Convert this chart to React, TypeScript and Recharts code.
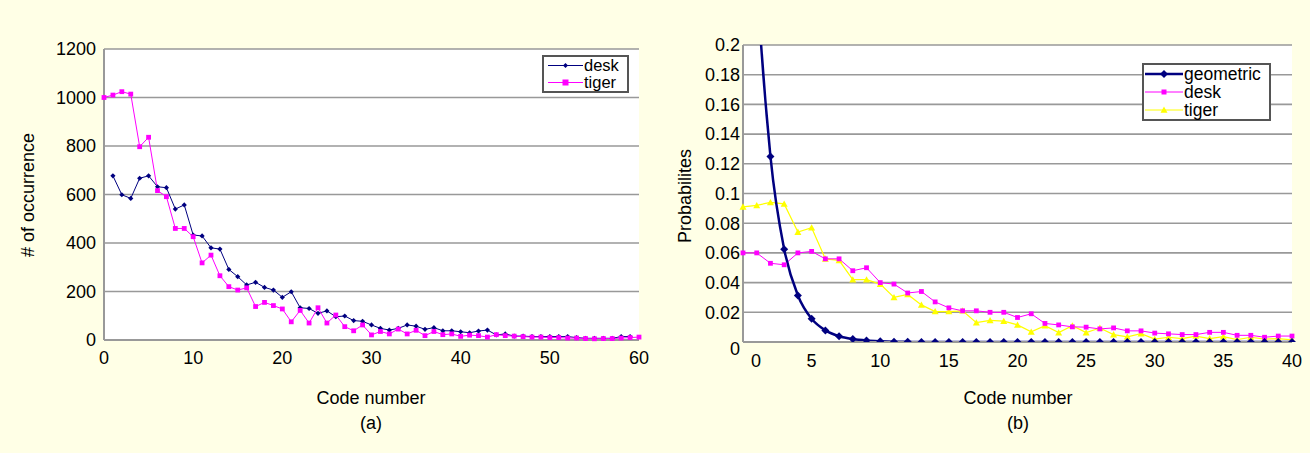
import React from 'react'
import { LineChart, Line, XAxis, YAxis, CartesianGrid, Legend } from 'recharts'

const FONT = '"Liberation Sans", Arial, sans-serif'
const NAVY = '#000080'
const MAGENTA = '#FF00FF'
const YELLOW = '#FFFF00'

// (a) occurrence counts, index = code number 0..60
const deskCounts = [
  null, 677, 599, 584, 667, 677, 632, 628, 540, 557, 433,
  429, 380, 375, 291, 261, 227, 238, 217, 206, 176,
  199, 133, 130, 110, 120, 96, 99, 80, 77, 62,
  48, 41, 48, 62, 57, 44, 51, 38, 38, 34,
  30, 37, 41, 21, 25, 16, 16, 14, 14, 14,
  14, 14, 10, 7, 7, 7, 7, 14, 14, null,
]
const tigerCounts = [
  1000, 1010, 1024, 1014, 797, 836, 616, 591, 460, 460, 426,
  318, 350, 265, 220, 206, 215, 138, 155, 142, 128,
  75, 122, 70, 133, 70, 103, 55, 38, 62, 21,
  35, 25, 45, 25, 40, 18, 35, 22, 25, 15,
  20, 18, 12, 22, 18, 16, 14, 12, 12, 10,
  10, 8, 8, 6, 5, 6, 6, 8, 10, 12,
]
const countTicks = [0, 200, 400, 600, 800, 1000, 1200]
const codeTicksA = [0, 10, 20, 30, 40, 50, 60]

// (b) probabilities, index = code number 0..40
const geometricProb = [
  0.5, 0.25, 0.125, 0.0625, 0.0313, 0.0156, 0.0078, 0.0039, 0.002, 0.001, 0.0005,
  0.0002, 0.0001, 0, 0, 0, 0, 0, 0, 0, 0,
  0, 0, 0, 0, 0, 0, 0, 0, 0, 0,
  0, 0, 0, 0, 0, 0, 0, 0, 0, 0,
]
const deskProb = [
  0.06, 0.06, 0.053, 0.052, 0.06, 0.061, 0.056, 0.056, 0.048, 0.05, 0.04,
  0.039, 0.033, 0.034, 0.027, 0.023, 0.021, 0.021, 0.02, 0.02, 0.0165,
  0.019, 0.0125, 0.0115, 0.0102, 0.01, 0.0088, 0.0095, 0.0075, 0.0075, 0.006,
  0.0055, 0.005, 0.005, 0.0065, 0.0065, 0.0045, 0.0045, 0.0032, 0.004, 0.004,
]
const tigerProb = [
  0.091, 0.092, 0.094, 0.093, 0.074, 0.077, 0.056, 0.055, 0.042, 0.042, 0.039,
  0.03, 0.032, 0.025, 0.0205, 0.0205, 0.021, 0.013, 0.0145, 0.014, 0.0115,
  0.0068, 0.011, 0.0063, 0.011, 0.0063, 0.0094, 0.005, 0.0035, 0.0056, 0.002,
  0.0032, 0.0023, 0.004, 0.0023, 0.0036, 0.0016, 0.0032, 0.002, 0.0023, 0.0014,
]
const probTicks = [0, 0.02, 0.04, 0.06, 0.08, 0.1, 0.12, 0.14, 0.16, 0.18, 0.2]
const codeTicksB = [0, 5, 10, 15, 20, 25, 30, 35, 40]

const dataA = tigerCounts.map((t, i) => ({ code: i, desk: deskCounts[i], tiger: t }))
const dataB = geometricProb.map((g, i) => ({ code: i, geometric: g, desk: deskProb[i], tiger: tigerProb[i] }))

type Shape = 'diamond' | 'square' | 'triangle'

function markerPath(shape: Shape, cx: number, cy: number, r: number) {
  if (shape === 'diamond') return `M${cx},${cy - r}L${cx + r},${cy}L${cx},${cy + r}L${cx - r},${cy}Z`
  if (shape === 'square') return `M${cx - r},${cy - r}h${2 * r}v${2 * r}h${-2 * r}Z`
  return `M${cx},${cy - r}L${cx + r},${cy + r * 0.8}L${cx - r},${cy + r * 0.8}Z`
}

function makeDot(shape: Shape, color: string, r: number) {
  return (p: any) => {
    const { cx, cy, index } = p
    if (cx == null || cy == null || p.value == null) return <g key={`m${index}`} />
    return <path key={`m${index}`} d={markerPath(shape, cx, cy, r)} fill={color} />
  }
}

interface LegendItem {
  name: string
  color: string
  shape: Shape
  r: number
  width: number
}

function LegendBox({ items, width, rowH, sampleW, padLeft, fontSize }: { items: LegendItem[]; width: number; rowH: number; sampleW: number; padLeft: number; fontSize: number }) {
  return (
    <div
      style={{
        boxSizing: 'border-box',
        width,
        border: '2px solid #555',
        background: '#fff',
        paddingLeft: padLeft,
        fontFamily: FONT,
        fontSize,
        lineHeight: `${rowH}px`,
        color: '#000',
      }}
    >
      {items.map((it) => (
        <div key={it.name} style={{ display: 'flex', alignItems: 'center', height: rowH }}>
          <svg width={sampleW} height={rowH} style={{ flex: 'none' }}>
            <line x1={0} x2={sampleW} y1={rowH / 2} y2={rowH / 2} stroke={it.color} strokeWidth={it.width} />
            <path d={markerPath(it.shape, sampleW / 2, rowH / 2, it.r)} fill={it.color} />
          </svg>
          <span style={{ marginLeft: 1 }}>{it.name}</span>
        </div>
      ))}
    </div>
  )
}

const tickStyle = { fontSize: 18, fill: '#000', fontFamily: FONT }

function ProbXTick(p: any) {
  const { x, y, payload } = p
  const shift = payload.value === 0 ? 13 : 0
  return (
    <text x={x + shift} y={y} dy="0.71em" textAnchor="middle" {...tickStyle}>
      {payload.value}
    </text>
  )
}

function ProbYTick(p: any) {
  const { x, y, payload } = p
  const shift = payload.value === 0 ? 7 : 0
  return (
    <text x={x} y={y + shift} dy="0.355em" textAnchor="end" {...tickStyle}>
      {payload.value}
    </text>
  )
}

const titleStyle: React.CSSProperties = {
  position: 'absolute',
  fontFamily: FONT,
  fontSize: 18,
  color: '#000',
  whiteSpace: 'nowrap',
  lineHeight: 1,
}

function Title({ x, y, text, rotate }: { x: number; y: number; text: string; rotate?: boolean }) {
  return (
    <div
      style={{
        ...titleStyle,
        left: x,
        top: y,
        transform: `translate(-50%, -50%)${rotate ? ' rotate(-90deg)' : ''}`,
      }}
    >
      {text}
    </div>
  )
}

export default function App() {
  return (
    <div style={{ position: 'absolute', left: 0, top: 0, width: 1310, height: 453, background: '#FFFFE6', overflow: 'hidden' }}>
      <div style={{ position: 'absolute', left: 0, top: 0 }}>
        <LineChart width={660} height={380} data={dataA} margin={{ top: 49, right: 21, bottom: 0, left: 0 }}>
          <CartesianGrid vertical={false} stroke="#999" strokeWidth={1.6} fill="#fff" />
          <XAxis
            type="number"
            dataKey="code"
            domain={[0, 60]}
            ticks={codeTicksA}
            height={40}
            tickLine={false}
            tickSize={0}
            tickMargin={11}
            axisLine={{ stroke: '#999', strokeWidth: 2 }}
            tick={tickStyle}
          />
          <YAxis
            domain={[0, 1200]}
            ticks={countTicks}
            width={104}
            tickLine={false}
            tickSize={0}
            tickMargin={8}
            axisLine={{ stroke: '#999', strokeWidth: 2 }}
            tick={tickStyle}
          />
          <YAxis yAxisId="edge" orientation="right" width={0} tick={false} tickLine={false} axisLine={{ stroke: '#c8c8c8', strokeWidth: 2 }} />
          <Legend
            layout="vertical"
            align="center"
            verticalAlign="middle"
            wrapperStyle={{ top: 55, left: 542, width: 'auto', height: 'auto' }}
            content={() => (
              <LegendBox
                width={87}
                rowH={17}
                sampleW={35}
                padLeft={4}
                fontSize={16.5}
                items={[
                  { name: 'desk', color: NAVY, shape: 'diamond', r: 2.5, width: 1 },
                  { name: 'tiger', color: MAGENTA, shape: 'square', r: 3, width: 1 },
                ]}
              />
            )}
          />
          <Line dataKey="desk" stroke={NAVY} strokeWidth={1} dot={makeDot('diamond', NAVY, 2.6)} isAnimationActive={false} />
          <Line dataKey="tiger" stroke={MAGENTA} strokeWidth={1} dot={makeDot('square', MAGENTA, 2.4)} isAnimationActive={false} />
        </LineChart>
      </div>

      <div style={{ position: 'absolute', left: 660, top: 0 }}>
        <LineChart width={650} height={380} data={dataB} margin={{ top: 45, right: 18, bottom: 0, left: 0 }}>
          <CartesianGrid vertical={false} stroke="#999" strokeWidth={1.6} fill="#fff" />
          <XAxis
            type="number"
            dataKey="code"
            domain={[0, 40]}
            ticks={codeTicksB}
            height={38}
            tickLine={false}
            tickSize={0}
            tickMargin={12}
            axisLine={{ stroke: '#999', strokeWidth: 2 }}
            tick={<ProbXTick />}
          />
          <YAxis
            domain={[0, 0.2]}
            allowDataOverflow
            ticks={probTicks}
            width={83}
            tickLine={false}
            tickSize={0}
            tickMargin={3}
            axisLine={{ stroke: '#999', strokeWidth: 2 }}
            tick={<ProbYTick />}
          />
          <YAxis yAxisId="edge" orientation="right" width={0} tick={false} tickLine={false} axisLine={{ stroke: '#c8c8c8', strokeWidth: 2 }} />
          <Legend
            layout="vertical"
            align="center"
            verticalAlign="middle"
            wrapperStyle={{ top: 63, left: 482, width: 'auto', height: 'auto' }}
            content={() => (
              <LegendBox
                width={129}
                rowH={18}
                sampleW={38}
                padLeft={1}
                fontSize={17.5}
                items={[
                  { name: 'geometric', color: NAVY, shape: 'diamond', r: 4, width: 2.5 },
                  { name: 'desk', color: MAGENTA, shape: 'square', r: 2.5, width: 1 },
                  { name: 'tiger', color: YELLOW, shape: 'triangle', r: 3.5, width: 1 },
                ]}
              />
            )}
          />
          <Line dataKey="tiger" stroke={YELLOW} strokeWidth={1.2} dot={makeDot('triangle', YELLOW, 3.5)} isAnimationActive={false} />
          <Line dataKey="desk" stroke={MAGENTA} strokeWidth={1} dot={makeDot('square', MAGENTA, 2.4)} isAnimationActive={false} />
          <Line type="monotone" dataKey="geometric" stroke={NAVY} strokeWidth={2.5} dot={makeDot('diamond', NAVY, 4)} isAnimationActive={false} />
        </LineChart>
      </div>

      <Title x={28} y={195} text="# of occurrence" rotate />
      <Title x={371} y={398} text="Code number" />
      <Title x={371} y={423} text="(a)" />
      <Title x={685} y={196} text="Probabilites" rotate />
      <Title x={1018} y={398} text="Code number" />
      <Title x={1018} y={423} text="(b)" />
    </div>
  )
}
